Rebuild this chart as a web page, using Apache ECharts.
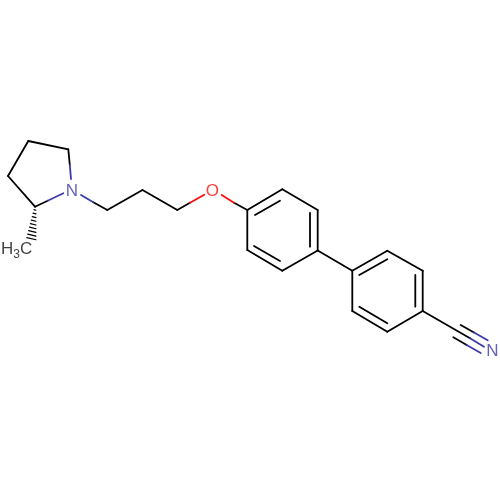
<!DOCTYPE html>
<html><head><meta charset="utf-8">
<style>html,body{margin:0;padding:0;background:#fff}#c{width:500px;height:500px}</style>
<script src="https://cdn.jsdelivr.net/npm/echarts@6/dist/echarts.min.js"></script>
</head><body><div id="c"></div>
<script>
// Bond segments: [x1, y1, x2, y2]
const blackBonds = [
  [28.3,141,68.3,149.3],[28.3,141,8,176],[8,176,35,206.7],[35,206.7,47.7,200.7],[68.3,149.3,69.8,165],
  [107.3,210,93.3,202.3],[107.3,210,142.5,190],[142.5,190,177.3,210],[177.3,210,190,202.7],
  [234,202.7,247.3,210],
  [247.3,210,282.3,189.3],[282.3,189.3,317.7,210],[317.7,210,317.7,250.5],[317.7,250.5,282.3,270.7],[282.3,270.7,247.3,250],[247.3,250,247.3,210],
  [255,215,280,200.7],[310,213,310,246.7],[254,246,280,261],
  [317.7,250.5,352.3,270.7],
  [352.3,270.7,387.3,250.7],[387.3,250.7,422.7,270.7],[422.7,270.7,422.7,311],[422.7,311,387.3,331.7],[387.3,331.7,352.3,311],[352.3,311,352.3,270.7],
  [359.3,275,387.3,259.3],[415.3,275,415.3,306.7],[359.3,306.7,387.3,323.3],
  [422.7,311,470,338.3],[460.7,325,474,332.5],[453.3,337.3,466.7,345]
];
const blueBonds = [
  [47.7,200.7,63.3,193.3],[69.8,165,71,179],[81,195,93.3,202.3],
  [470,338.3,484,346.7],[474,332.5,487.7,340.3],[466.7,345,480.7,353]
];
const redBonds = [
  [190,202.7,204.3,194.7],[221.7,195,234,202.7]
];
const hashStripes = [
  [33.9,209.6,36,210.2],[33,213.1,36,213.9],[32.2,216.6,36,217.6],[31.3,220.1,36,221.3],
  [30.4,223.6,36,225],[29.5,227.1,36,228.7],[28.6,230.6,36,232.4],[27.7,234.1,36,236.1],[26.8,237.6,36,239.8]
];
// Atom labels: [x, y, text]
const blueLabels = [[72,191,'N'],[492.5,351.5,'N']];
const redLabels = [[212.3,191.7,'O']];
const methylLabels = [[1,251,'{n|H}{s|3}{n|C}']];

const segs = (name, data, color, width) => ({
  type:'custom', name, coordinateSystem:'cartesian2d', silent:true, animation:false,
  data, encode:{x:[0,2],y:[1,3]}, clip:false,
  renderItem(p, api){
    const a=api.coord([api.value(0),api.value(1)]), b=api.coord([api.value(2),api.value(3)]);
    return {type:'line',shape:{x1:a[0],y1:a[1],x2:b[0],y2:b[1]},style:{stroke:color,lineWidth:width,lineCap:'round'}};
  }
});
const labels = (data, color, align) => ({
  type:'scatter', symbolSize:0, silent:true, animation:false, data,
  label:{show:true,position:'inside',color,align,verticalAlign:'middle',
    fontFamily:'Liberation Sans',fontSize:17,
    formatter:p=>p.data[2],
    rich:{
      n:{fontFamily:'Liberation Sans',fontSize:17,lineHeight:20,color,verticalAlign:'top'},
      s:{fontFamily:'Liberation Sans',fontSize:12,lineHeight:11,color,verticalAlign:'bottom'}
    }}
});
const chart = echarts.init(document.getElementById('c'),null,{renderer:'canvas',width:500,height:500});
chart.setOption({
  backgroundColor:'#fff', animation:false,
  grid:{left:0,right:0,top:0,bottom:0},
  xAxis:{type:'value',min:0,max:500,show:false},
  yAxis:{type:'value',min:0,max:500,inverse:true,show:false},
  series:[
    segs('bonds',blackBonds,'#000',1.8),
    segs('blue',blueBonds,'#3a3aa8',1.8),
    segs('red',redBonds,'#ff0d0d',1.8),
    segs('hash',hashStripes,'#000',1.1),
    labels(blueLabels,'#3a3aa8','center'),
    labels(redLabels,'#ff0d0d','center'),
    labels(methylLabels,'#111','left')
  ]
});
</script></body></html>
